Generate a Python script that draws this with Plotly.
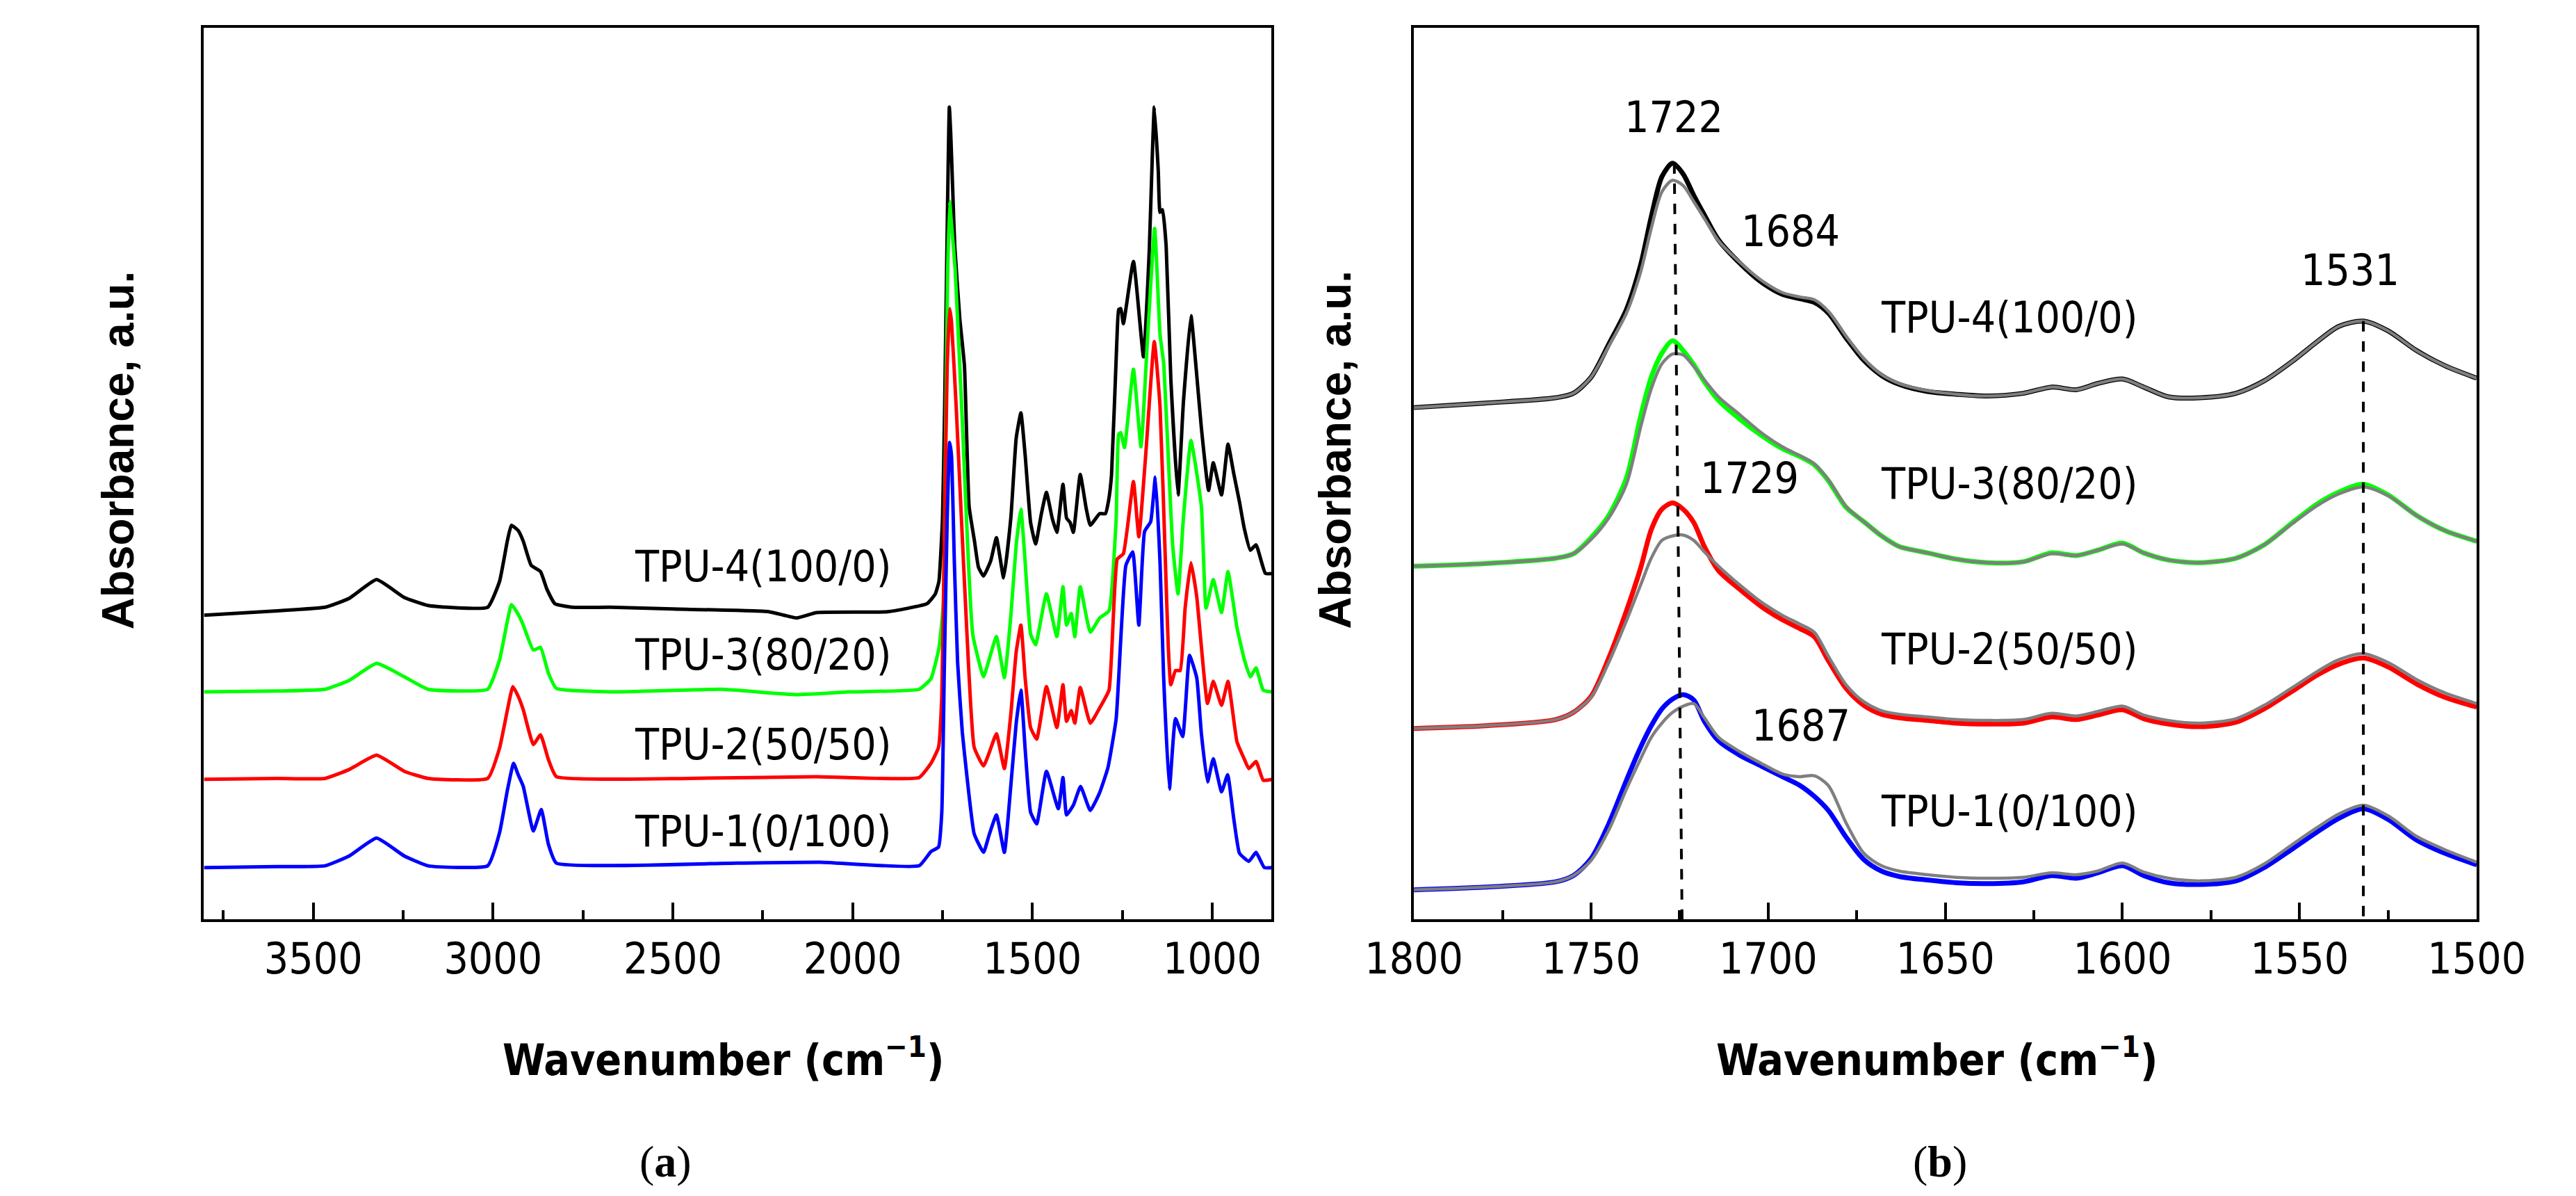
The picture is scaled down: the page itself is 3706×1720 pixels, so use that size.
import plotly.graph_objects as go

# ---- panel (a): full FTIR spectra, offset for display (a.u.) ----
A_BLACK_WN = [3804, 3600, 3467, 3400, 3324, 3247, 3181, 3015, 2982, 2960, 2949, 2930, 2916, 2894,
              2868, 2850, 2828, 2780, 2674, 2500, 2233, 2156, 2100, 1903, 1793, 1770, 1760, 1750,
              1744, 1736, 1731, 1727, 1722, 1716, 1702, 1689, 1676, 1661, 1650, 1636, 1616, 1600,
              1580, 1560, 1545, 1532, 1520, 1505, 1491, 1475, 1461, 1445, 1432, 1415, 1405, 1395,
              1386, 1367, 1350, 1339, 1313, 1297, 1288, 1280, 1265, 1260, 1254, 1247, 1219, 1191,
              1175, 1167, 1161, 1150, 1145, 1138, 1128, 1115, 1095, 1080, 1059, 1045, 1030, 1010,
              997, 974, 956, 940, 924, 911, 894, 878, 852, 832]
A_BLACK_ABS = [34.1, 34.6, 35.0, 36.0, 38.1, 36.1, 35.2, 35.0, 37.9, 42.5, 44.2, 43.6, 42.4, 39.7,
               39.0, 37.0, 35.4, 35.0, 35.0, 34.8, 34.5, 33.8, 34.4, 34.5, 35.4, 36.5, 37.9, 45.0,
               57.6, 80.0, 91.1, 88.0, 82.3, 75.6, 67.4, 62.1, 46.3, 42.4, 39.5, 38.5, 40.2, 42.8,
               38.3, 45.0, 54.0, 56.8, 52.0, 44.5, 42.1, 45.5, 47.9, 45.0, 43.4, 48.8, 45.0, 44.5,
               43.4, 49.9, 46.0, 44.2, 45.5, 45.5, 47.0, 49.8, 65.0, 68.4, 68.5, 66.8, 73.8, 63.1,
               75.0, 85.0, 91.1, 84.0, 79.3, 79.6, 75.5, 60.6, 47.6, 58.0, 67.7, 62.0, 55.1, 48.1,
               51.2, 47.6, 53.3, 50.0, 46.8, 43.9, 41.4, 42.0, 38.8, 38.8]

A_GREEN_WN = [3804, 3600, 3467, 3400, 3324, 3247, 3181, 3015, 2982, 2960, 2949, 2930, 2916, 2888,
              2868, 2846, 2824, 2674, 2366, 2156, 2013, 1815, 1782, 1760, 1748, 1742, 1736, 1730,
              1726, 1715, 1695, 1685, 1666, 1636, 1620, 1600, 1578, 1560, 1545, 1532, 1520, 1505,
              1491, 1461, 1432, 1415, 1405, 1392, 1382, 1367, 1339, 1313, 1287, 1267, 1260, 1254,
              1244, 1219, 1198, 1180, 1160, 1145, 1135, 1125, 1110, 1095, 1080, 1059, 1030, 1017,
              997, 974, 956, 931, 911, 894, 878, 858, 832]
A_GREEN_ABS = [25.5, 25.6, 25.8, 26.8, 28.7, 27.2, 25.8, 25.8, 29.1, 33.5, 35.3, 34.2, 33.0, 30.2,
               30.5, 27.6, 25.9, 25.5, 25.8, 25.2, 25.5, 25.8, 27.0, 30.4, 35.2, 52.0, 72.0, 80.5,
               78.5, 73.0, 56.0, 46.5, 32.0, 27.2, 29.2, 31.7, 27.1, 34.0, 42.0, 46.0, 40.0, 32.0,
               30.8, 36.5, 31.7, 37.3, 33.0, 34.3, 31.7, 37.3, 32.2, 33.8, 34.6, 44.9, 54.4, 54.6,
               52.9, 61.7, 53.0, 65.0, 77.5, 65.6, 62.4, 54.4, 42.0, 36.5, 45.0, 53.7, 46.3, 34.9,
               38.1, 34.4, 39.0, 32.7, 29.2, 27.2, 28.2, 25.7, 25.5]

A_RED_WN = [3804, 3600, 3467, 3400, 3324, 3247, 3181, 3015, 2982, 2960, 2945, 2930, 2916, 2888,
            2868, 2846, 2824, 2454, 2101, 1815, 1782, 1761, 1752, 1745, 1737, 1730, 1725, 1712,
            1699, 1682, 1662, 1636, 1620, 1600, 1578, 1560, 1545, 1532, 1520, 1505, 1488, 1461,
            1432, 1415, 1405, 1392, 1382, 1367, 1339, 1313, 1287, 1264, 1247, 1219, 1204, 1185,
            1161, 1145, 1130, 1122, 1115, 1102, 1089, 1075, 1059, 1043, 1013, 997, 974, 956,
            931, 911, 898, 878, 858, 832]
A_RED_ABS = [15.7, 15.8, 15.8, 16.8, 18.4, 16.6, 15.8, 15.8, 19.2, 23.5, 26.1, 25.0, 23.5, 19.6,
             20.7, 17.9, 16.0, 15.8, 16.0, 15.9, 17.5, 19.3, 25.0, 42.0, 62.0, 68.5, 67.0, 57.5,
             46.3, 32.0, 19.3, 17.2, 18.7, 20.8, 16.9, 23.0, 30.0, 33.0, 27.0, 21.5, 20.2, 26.1,
             21.5, 26.3, 22.2, 23.4, 22.0, 26.0, 22.0, 23.7, 25.7, 40.4, 41.0, 49.1, 42.9, 52.0,
             64.8, 57.5, 40.0, 30.5, 26.3, 27.9, 27.9, 35.0, 40.0, 36.2, 24.2, 26.7, 24.0, 26.7,
             19.9, 18.0, 16.9, 17.7, 15.6, 15.7]

A_BLUE_WN = [3804, 3600, 3467, 3400, 3324, 3247, 3181, 3015, 2982, 2960, 2943, 2930, 2916, 2888,
             2866, 2846, 2824, 2322, 2090, 1815, 1782, 1761, 1752, 1745, 1737, 1730, 1725, 1717,
             1708, 1695, 1682, 1662, 1636, 1620, 1600, 1578, 1560, 1545, 1532, 1520, 1505, 1488,
             1461, 1428, 1415, 1405, 1386, 1366, 1339, 1313, 1290, 1267, 1240, 1221, 1204, 1188,
             1171, 1158, 1145, 1135, 1119, 1102, 1082, 1063, 1043, 1030, 1013, 997, 974, 957,
             940, 924, 898, 878, 855, 832]
A_BLUE_ABS = [5.8, 5.9, 6.0, 7.1, 9.1, 7.1, 6.0, 6.0, 9.7, 14.5, 17.5, 16.2, 14.9, 9.9,
              12.3, 8.4, 6.3, 6.3, 6.4, 6.0, 7.6, 8.1, 12.0, 28.0, 45.0, 53.5, 52.0, 40.0,
              28.8, 21.0, 16.0, 9.6, 7.5, 9.5, 11.7, 7.5, 15.0, 22.0, 25.7, 19.0, 12.0, 10.7,
              16.6, 12.4, 15.9, 11.7, 12.8, 14.9, 12.2, 14.2, 17.0, 22.5, 39.7, 41.2, 33.0, 43.5,
              44.6, 49.6, 40.0, 27.2, 14.6, 22.5, 20.5, 29.6, 27.1, 20.8, 15.4, 18.0, 14.3, 16.2,
              11.3, 7.4, 6.5, 7.5, 5.8, 5.8]

# ---- panel (b): carbonyl / amide II region, measured (colour) and fitted (grey) ----
B_WN = [1800, 1780, 1760, 1755, 1750, 1745, 1740, 1736, 1733, 1730, 1727, 1724, 1721, 1718,
        1714, 1708, 1702, 1696, 1691, 1687, 1683, 1678, 1673, 1668, 1663, 1655, 1647, 1638,
        1628, 1620, 1613, 1607, 1600, 1594, 1587, 1578, 1568, 1560, 1552, 1545, 1539, 1532,
        1525, 1517, 1509, 1500]
B_BLACK = [57.4, 57.9, 58.5, 59.0, 60.8, 64.5, 68.4, 73.4, 78.8, 83.3, 84.8, 83.6, 81.2, 79.0,
           76.2, 73.6, 71.5, 70.1, 69.6, 69.2, 68.0, 65.2, 62.7, 61.0, 60.0, 59.2, 58.9, 58.7,
           59.0, 59.7, 59.4, 60.1, 60.6, 59.7, 58.6, 58.5, 59.0, 60.4, 62.6, 64.8, 66.5, 67.1,
           66.0, 63.8, 62.1, 60.7]
B_BLACK_FIT = [57.4, 57.9, 58.5, 59.0, 60.8, 64.3, 68.0, 72.6, 77.5, 81.6, 82.9, 82.3, 80.5, 78.6,
               76.1, 73.7, 71.7, 70.3, 69.8, 69.5, 68.2, 65.4, 62.9, 61.1, 60.1, 59.3, 58.9, 58.7,
               59.0, 59.7, 59.4, 60.1, 60.6, 59.7, 58.6, 58.5, 59.0, 60.4, 62.6, 64.8, 66.5, 67.1,
               66.0, 63.8, 62.1, 60.7]
B_GREEN = [39.6, 39.9, 40.5, 41.0, 42.8, 45.3, 49.5, 56.4, 60.8, 63.5, 64.9, 63.8, 62.2, 60.3,
           58.2, 56.1, 54.3, 52.8, 51.9, 51.0, 49.2, 46.2, 44.6, 43.0, 41.8, 41.1, 40.4, 40.0,
           40.1, 41.1, 40.8, 41.4, 42.2, 41.1, 40.3, 40.0, 40.5, 42.0, 44.5, 46.6, 47.9, 48.8,
           47.6, 45.3, 43.6, 42.4]
B_GREEN_FIT = [39.6, 39.9, 40.5, 41.0, 42.6, 45.0, 48.8, 55.2, 59.5, 62.3, 63.4, 63.3, 62.0, 60.5,
               58.6, 56.6, 54.6, 53.0, 52.0, 51.1, 49.3, 46.3, 44.6, 43.0, 41.8, 41.1, 40.4, 40.0,
               40.1, 41.0, 40.8, 41.4, 42.1, 41.1, 40.3, 40.0, 40.5, 42.0, 44.4, 46.4, 47.7, 48.5,
               47.5, 45.3, 43.6, 42.4]
B_RED = [21.4, 21.7, 22.4, 23.2, 25.0, 29.3, 34.6, 39.4, 43.7, 46.0, 46.7, 46.0, 44.5, 41.8,
         39.1, 37.0, 35.1, 33.6, 32.6, 31.7, 29.0, 25.9, 24.0, 23.0, 22.6, 22.3, 22.0, 21.9,
         22.0, 22.7, 22.4, 22.9, 23.5, 22.5, 21.9, 21.6, 22.1, 23.6, 25.6, 27.4, 28.6, 29.3,
         28.3, 26.4, 24.9, 23.8]
B_RED_FIT = [21.4, 21.7, 22.4, 23.2, 24.9, 28.8, 33.5, 37.5, 40.5, 42.5, 43.0, 43.1, 42.5, 41.2,
             39.6, 37.5, 35.6, 34.1, 33.1, 32.2, 29.5, 26.3, 24.4, 23.4, 23.0, 22.7, 22.4, 22.3,
             22.4, 23.1, 22.8, 23.3, 23.9, 22.9, 22.3, 22.0, 22.5, 24.0, 26.0, 27.8, 29.1, 29.8,
             28.8, 26.9, 25.4, 24.2]
B_BLUE = [3.3, 3.6, 4.2, 4.9, 6.8, 10.7, 15.6, 19.3, 21.7, 23.6, 24.7, 25.2, 24.6, 22.2,
          20.0, 18.4, 17.2, 16.0, 15.0, 13.8, 12.2, 9.2, 6.7, 5.4, 4.8, 4.4, 4.1, 4.0,
          4.2, 4.9, 4.6, 5.2, 6.0, 4.9, 4.1, 3.9, 4.3, 5.8, 7.9, 9.8, 11.3, 12.4,
          11.2, 8.9, 7.4, 6.1]
B_BLUE_FIT = [3.3, 3.6, 4.2, 4.9, 6.6, 10.0, 14.6, 18.0, 20.4, 22.0, 23.2, 23.9, 24.2, 22.6,
              20.4, 18.8, 17.5, 16.3, 16.0, 16.1, 15.0, 10.8, 7.4, 6.0, 5.4, 5.0, 4.7, 4.6,
              4.7, 5.2, 5.0, 5.4, 6.3, 5.3, 4.6, 4.3, 4.7, 6.2, 8.4, 10.3, 11.8, 12.8,
              11.6, 9.3, 7.8, 6.4]

SAMPLE_NAMES = ['TPU-4(100/0)', 'TPU-3(80/20)', 'TPU-2(50/50)', 'TPU-1(0/100)']
# wavenumbers of the dashed guide lines in (b): (top, bottom)
GUIDE_WN = [(1726.5, 1724.3), (1532.0, 1532.0)]

NARROW = 'Liberation Sans Narrow, DejaVu Sans Condensed, Arial Narrow, sans-serif'
BOLD = 'Liberation Sans, Arial, sans-serif'
SERIF = 'Liberation Serif, Times New Roman, serif'


def make_plot():
    W, H = 3706, 1720
    colors = ['black', '#00ff00', '#ff0000', '#0000ff']
    grey = '#7f7f7f'

    traces = []
    for wn, ab, c in zip([A_BLACK_WN, A_GREEN_WN, A_RED_WN, A_BLUE_WN],
                         [A_BLACK_ABS, A_GREEN_ABS, A_RED_ABS, A_BLUE_ABS], colors):
        traces.append(go.Scatter(x=wn, y=ab, mode='lines', xaxis='x', yaxis='y',
                                 line=dict(color=c, width=5, shape='spline', smoothing=0.4)))

    for meas, fit, c in zip([B_BLACK, B_GREEN, B_RED, B_BLUE],
                            [B_BLACK_FIT, B_GREEN_FIT, B_RED_FIT, B_BLUE_FIT], colors):
        traces.append(go.Scatter(x=B_WN, y=meas, mode='lines', xaxis='x2', yaxis='y2',
                                 line=dict(color=c, width=7, shape='spline', smoothing=0.8)))
        traces.append(go.Scatter(x=B_WN, y=fit, mode='lines', xaxis='x2', yaxis='y2',
                                 line=dict(color=grey, width=4.5, shape='spline', smoothing=0.8)))

    # dashed guide lines from black peak down to the axis
    top_1722 = max(B_BLACK)
    top_1531 = B_BLACK[B_WN.index(1532)]
    for (wt, wb), ytop in zip(GUIDE_WN, [top_1722, top_1531]):
        traces.append(go.Scatter(x=[wt, wb], y=[ytop, 0], mode='lines', xaxis='x2', yaxis='y2',
                                 line=dict(color='black', width=4, dash='15px,14px')))

    frame = dict(showline=True, linewidth=4, linecolor='black', mirror=True,
                 showgrid=False, zeroline=False)
    xcommon = dict(frame, tickmode='linear', ticks='inside', ticklen=24, tickwidth=4,
                   tickcolor='black', ticklabelstandoff=0,
                   tickfont=dict(family=NARROW, size=62, color='black'))
    ycommon = dict(frame, range=[0, 100], showticklabels=False, ticks='')

    ydom = [1 - 1314 / H, 1 - 32 / H]

    def note(txt, x, y, xref, yref, font, angle=0):
        return dict(x=x, y=y, xref=xref, yref=yref, text=txt, showarrow=False, textangle=angle,
                    xanchor='center', yanchor='middle', font=font)

    label_font = dict(family=NARROW, size=62, color='black')
    annotations = []
    # sample labels panel (a)
    for name, y in zip(SAMPLE_NAMES, [39.6, 29.7, 19.6, 9.9]):
        annotations.append(note(name, 2250, y, 'x', 'y', label_font))
    # sample labels panel (b)
    for name, y in zip(SAMPLE_NAMES, [67.5, 48.9, 30.3, 12.1]):
        annotations.append(note(name, 1632, y, 'x2', 'y2', label_font))
    # peak labels panel (b)
    for txt, x, y in [('1722', 1726.6, 90.0), ('1684', 1693.7, 77.2), ('1531', 1535.8, 72.8),
                      ('1729', 1705.3, 49.5), ('1687', 1690.8, 21.7)]:
        annotations.append(note(txt, x, y, 'x2', 'y2', label_font))
    # axis titles and panel letters
    for xp in [95 / W, 1915 / W]:
        annotations.append(note('<b>Absorbance, a.u.</b>', xp, 1 - 639 / H, 'paper', 'paper',
                                dict(family=BOLD, size=64, color='black'), angle=-90))
    for xp in [1000 / W, 2815 / W]:
        annotations.append(note('<b>Wavenumber (cm<sup>\u22121</sup>)</b>', xp, 1 - 1512 / H,
                                'paper', 'paper', dict(family=NARROW, size=62, color='black')))
    for xp, letter in [(913 / W, 'a'), (2820 / W, 'b')]:
        annotations.append(note('(<b>%s</b>)' % letter, xp, 1 - 1662 / H, 'paper', 'paper',
                                dict(family=SERIF, size=64, color='black')))

    layout = go.Layout(
        width=W, height=H,
        showlegend=False,
        margin=dict(l=0, r=0, t=0, b=0, pad=0),
        paper_bgcolor='white', plot_bgcolor='white',
        xaxis=dict(xcommon, domain=[223 / W, 1820 / W], range=[3804, 835], tick0=1000, dtick=500,
                   minor=dict(tick0=1000, dtick=250, ticks='inside', ticklen=13, tickwidth=4,
                              tickcolor='black'),
                   anchor='y'),
        yaxis=dict(ycommon, domain=ydom, anchor='x'),
        xaxis2=dict(xcommon, domain=[2033 / W, 3623 / W], range=[1800.001, 1499.999],
                    tick0=1500, dtick=50,
                    minor=dict(tick0=1500, dtick=25, ticks='inside', ticklen=13, tickwidth=4,
                               tickcolor='black'),
                    anchor='y2'),
        yaxis2=dict(ycommon, domain=ydom, anchor='x2'),
        annotations=annotations,
    )

    fig = go.Figure(data=traces, layout=layout)
    fig.write_html('out.html')


if __name__ == '__main__':
    make_plot()
